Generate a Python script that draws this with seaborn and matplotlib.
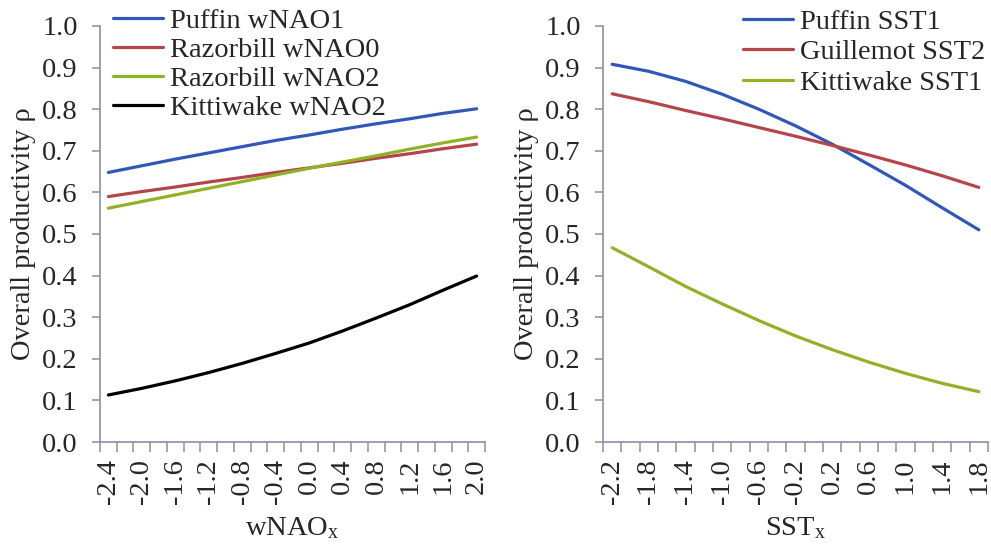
import numpy as np
import pandas as pd
import matplotlib
matplotlib.use("Agg")
import matplotlib.pyplot as plt
import seaborn as sns
from matplotlib.lines import Line2D

# ---------------- data ----------------
wnao_x = [-2.4, -2.0, -1.6, -1.2, -0.8, -0.4, 0.0, 0.4, 0.8, 1.2, 1.6, 2.0]
puffin_wnao1 = [0.648, 0.664, 0.680, 0.695, 0.710, 0.725, 0.738, 0.752, 0.765, 0.777, 0.790, 0.801]
razorbill_wnao0 = [0.590, 0.602, 0.613, 0.625, 0.636, 0.648, 0.659, 0.670, 0.682, 0.693, 0.705, 0.716]
razorbill_wnao2 = [0.562, 0.578, 0.594, 0.610, 0.626, 0.642, 0.658, 0.673, 0.688, 0.704, 0.719, 0.733]
kittiwake_wnao2 = [0.113, 0.129, 0.147, 0.167, 0.189, 0.213, 0.238, 0.267, 0.298, 0.330, 0.365, 0.399]

sst_x = [-2.2, -1.8, -1.4, -1.0, -0.6, -0.2, 0.2, 0.6, 1.0, 1.4, 1.8]
puffin_sst1 = [0.908, 0.891, 0.867, 0.836, 0.800, 0.760, 0.716, 0.667, 0.617, 0.563, 0.510]
guillemot_sst2 = [0.837, 0.818, 0.797, 0.777, 0.756, 0.735, 0.713, 0.690, 0.666, 0.640, 0.612]
kittiwake_sst1 = [0.467, 0.421, 0.374, 0.332, 0.292, 0.255, 0.222, 0.192, 0.165, 0.141, 0.121]

wnao_labels = ["-2.4", "-2.0", "-1.6", "-1.2", "-0.8", "-0.4", "0.0", "0.4", "0.8", "1.2", "1.6", "2.0"]
sst_labels = ["-2.2", "-1.8", "-1.4", "-1.0", "-0.6", "-0.2", "0.2", "0.6", "1.0", "1.4", "1.8"]
y_ticks = [0.0, 0.1, 0.2, 0.3, 0.4, 0.5, 0.6, 0.7, 0.8, 0.9, 1.0]
y_labels = ["0.0", "0.1", "0.2", "0.3", "0.4", "0.5", "0.6", "0.7", "0.8", "0.9", "1.0"]

left_series = [
    ("Puffin wNAO1", puffin_wnao1),
    ("Razorbill wNAO0", razorbill_wnao0),
    ("Razorbill wNAO2", razorbill_wnao2),
    ("Kittiwake wNAO2", kittiwake_wnao2),
]
right_series = [
    ("Puffin SST1", puffin_sst1),
    ("Guillemot SST2", guillemot_sst2),
    ("Kittiwake SST1", kittiwake_sst1),
]
left_colors = ["#3158b8", "#b4454a", "#91b226", "#000000"]
right_colors = ["#3158b8", "#b4454a", "#91b226"]

# ---------------- style ----------------
sns.set_style("ticks")
plt.rcParams["font.family"] = ["Liberation Serif", "DejaVu Serif"]
plt.rcParams["mathtext.fontset"] = "custom"
plt.rcParams["mathtext.rm"] = "Liberation Serif"
plt.rcParams["mathtext.it"] = "Liberation Serif"

FS = 20.5
AXC = "#8d8da5"
LW = 2.3

fig = plt.figure(figsize=(9.91, 5.45), dpi=100)
ax1 = fig.add_axes([100 / 991, 103 / 545, 385 / 991, 416 / 545])
ax2 = fig.add_axes([603 / 991, 103 / 545, 385 / 991, 416 / 545])


def draw(ax, xs, series, colors):
    df = pd.DataFrame(
        [(x, y, name) for name, vals in series for x, y in zip(xs, vals)],
        columns=["x", "y", "series"],
    )
    sns.lineplot(data=df, x="x", y="y", hue="series",
                 hue_order=[s[0] for s in series], palette=colors,
                 linewidth=LW, ax=ax, legend=False)


def style(ax, xs, labels, xlabel):
    step = 0.2
    lo, hi = xs[0] - step / 2, xs[-1] + step / 2
    ax.set_xlim(lo, hi)
    ax.set_ylim(0, 1.0)
    ax.set_xticks(xs)
    ax.set_xticklabels(labels, rotation=90, fontsize=FS)
    ax.set_xticks(np.arange(lo, hi + 1e-6, step), minor=True)
    ax.tick_params(axis="x", which="major", length=0, pad=12)
    ax.tick_params(axis="x", which="minor", length=7, width=1.1, color=AXC, direction="out")
    ax.set_yticks(y_ticks)
    ax.set_yticklabels(y_labels, fontsize=FS)
    ax.tick_params(axis="y", length=6, width=1.1, color=AXC, direction="out", pad=10)
    for s in ["top", "right"]:
        ax.spines[s].set_visible(False)
    for s in ["left", "bottom"]:
        ax.spines[s].set_color(AXC)
        ax.spines[s].set_linewidth(1.2)
    ax.set_xlabel(xlabel, fontsize=FS, labelpad=8)
    ax.set_ylabel("Overall productivity ρ", fontsize=FS, labelpad=4)
    ax.set_facecolor("white")


draw(ax1, wnao_x, left_series, left_colors)
draw(ax2, sst_x, right_series, right_colors)
style(ax1, wnao_x, wnao_labels, r"wNAO$_\mathregular{x}$")
style(ax2, sst_x, sst_labels, r"SST$_\mathregular{x}$")


def legend(ax, series, colors, anchor, spacing):
    handles = [Line2D([0], [0], color=c, lw=LW) for c in colors]
    ax.legend(handles, [s[0] for s in series], loc="upper left",
              bbox_to_anchor=anchor, bbox_transform=fig.transFigure,
              frameon=False, fontsize=FS, handlelength=1.75,
              handletextpad=0.25, labelspacing=spacing,
              borderpad=0, borderaxespad=0)


legend(ax1, left_series, left_colors, (113 / 991, 1 - 8 / 545), 0.11)
legend(ax2, right_series, right_colors, (743 / 991, 1 - 9 / 545), 0.16)

fig.savefig("out.png", dpi=100, facecolor="white")
